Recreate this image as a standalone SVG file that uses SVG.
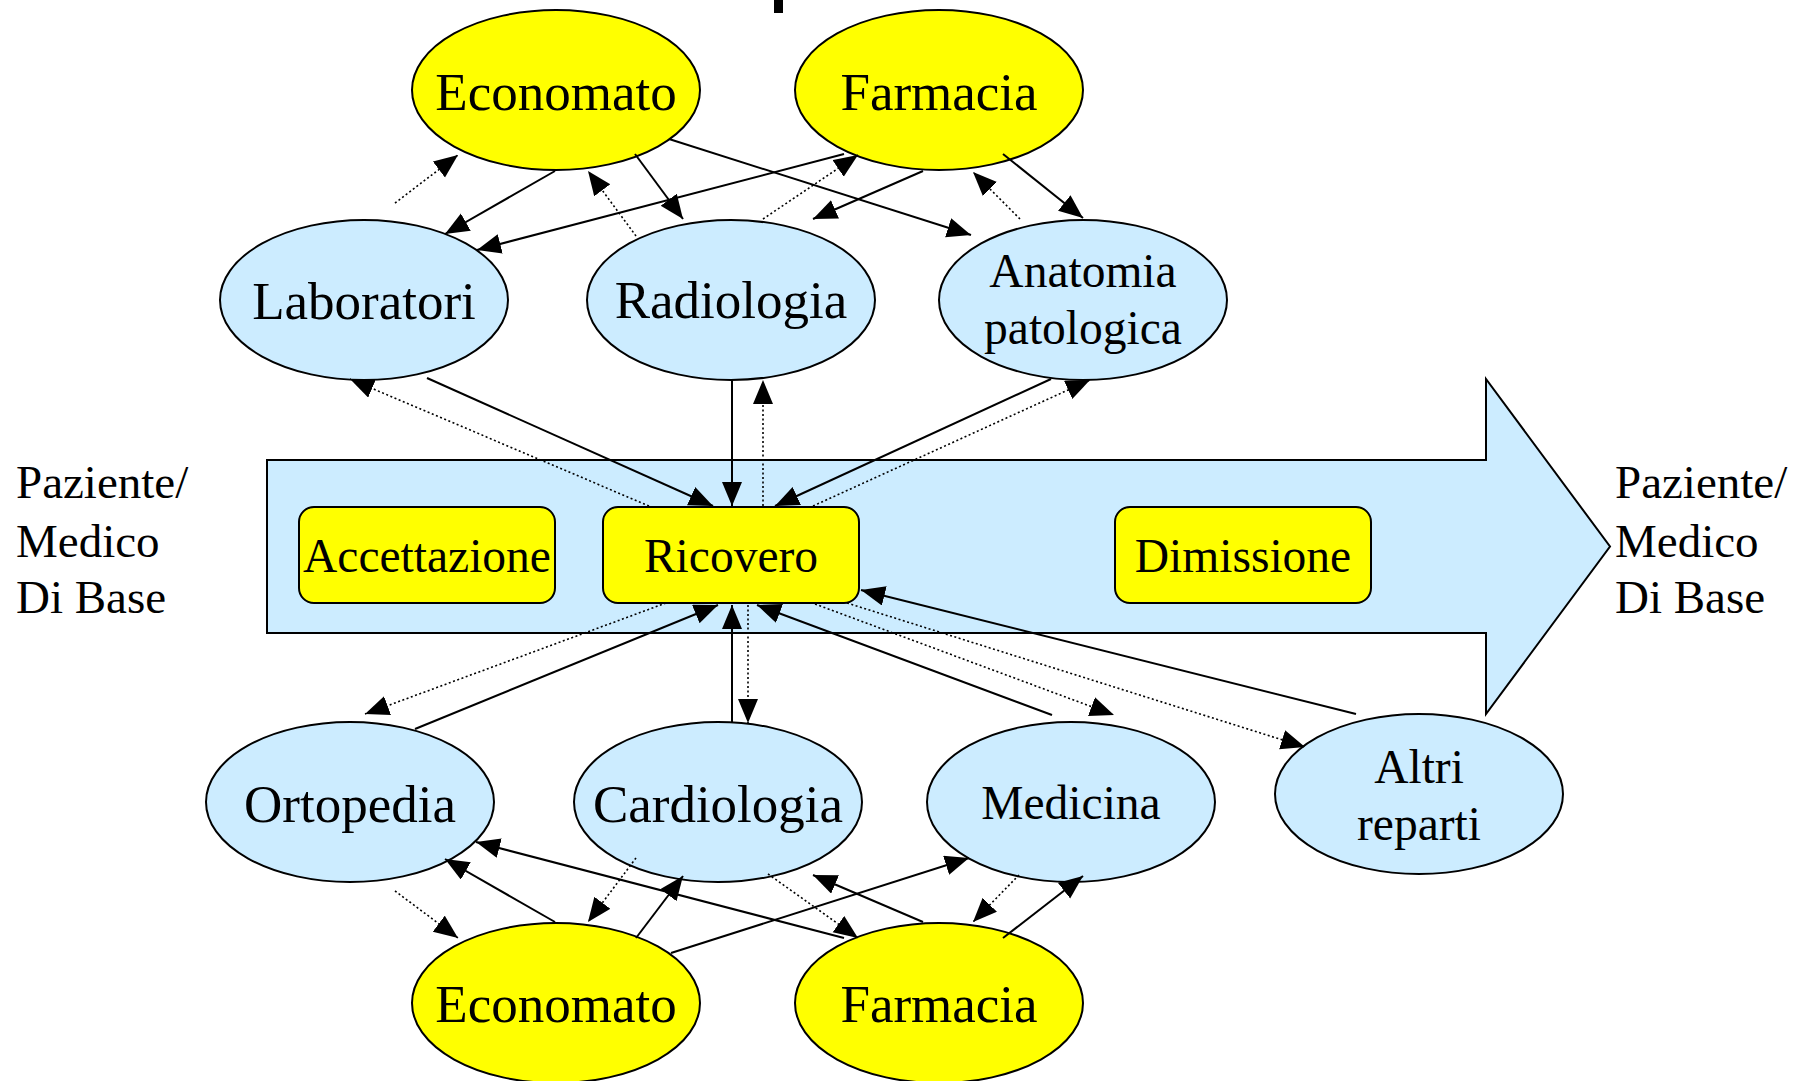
<svg xmlns="http://www.w3.org/2000/svg" width="1793" height="1081" viewBox="0 0 1793 1081">
<style>
.yel{fill:#FFFF00;stroke:#000;stroke-width:2}
.blu{fill:#CCECFF;stroke:#000;stroke-width:2}
.t{font-family:"Liberation Serif","Times New Roman",serif;fill:#000;text-anchor:middle}
.big{font-size:53px}
.sm{font-size:47.5px}
.side{font-family:"Liberation Serif","Times New Roman",serif;font-size:47px;fill:#000}
.s{stroke:#000;stroke-width:2;fill:none;marker-end:url(#ah)}
.d{stroke:#000;stroke-width:1.6;stroke-dasharray:2 2.5;fill:none;marker-end:url(#ah)}
</style>
<defs>
<marker id="ah" markerUnits="userSpaceOnUse" markerWidth="26" markerHeight="22" refX="24" refY="10" orient="auto" viewBox="0 0 26 22">
<path d="M0,0 L24,10 L0,20 z" fill="#000"/>
</marker>
</defs>
<rect width="1793" height="1081" fill="#fff"/>
<rect x="774" y="0" width="9" height="13" fill="#000"/>

<g id="flow">
<polygon points="267,460 1486,460 1486,379 1610,546.5 1486,714 1486,633 267,633" fill="#CCECFF" stroke="#000" stroke-width="2"/>
</g>

<g id="lbl-left"><text class="side" x="16" y="498">Paziente/</text><text class="side" x="16" y="557">Medico</text><text class="side" x="16" y="613">Di Base</text></g>
<g id="lbl-right"><text class="side" x="1615" y="498">Paziente/</text><text class="side" x="1615" y="557">Medico</text><text class="side" x="1615" y="613">Di Base</text></g>

<g id="accettazione"><rect class="yel" x="299" y="507" width="256" height="96" rx="15"/><text class="t sm" x="427" y="572">Accettazione</text></g>
<g id="ricovero"><rect class="yel" x="603" y="507" width="256" height="96" rx="15"/><text class="t sm" x="731" y="572">Ricovero</text></g>
<g id="dimissione"><rect class="yel" x="1115" y="507" width="256" height="96" rx="15"/><text class="t sm" x="1243" y="572">Dimissione</text></g>

<g id="economato-top"><ellipse class="yel" cx="556" cy="90" rx="144" ry="80"/><text class="t big" x="556" y="110">Economato</text></g>
<g id="farmacia-top"><ellipse class="yel" cx="939" cy="90" rx="144" ry="80"/><text class="t big" x="939" y="110">Farmacia</text></g>
<g id="laboratori"><ellipse class="blu" cx="364" cy="300" rx="144" ry="80"/><text class="t big" x="364" y="319">Laboratori</text></g>
<g id="radiologia"><ellipse class="blu" cx="731" cy="300" rx="144" ry="80"/><text class="t big" x="731" y="318">Radiologia</text></g>
<g id="anatomia"><ellipse class="blu" cx="1083" cy="300" rx="144" ry="80"/><text class="t sm" x="1083" y="287">Anatomia</text><text class="t sm" x="1083" y="344">patologica</text></g>

<g id="ortopedia"><ellipse class="blu" cx="350" cy="802" rx="144" ry="80"/><text class="t big" x="350" y="822">Ortopedia</text></g>
<g id="cardiologia"><ellipse class="blu" cx="718" cy="802" rx="144" ry="80"/><text class="t big" x="718" y="822">Cardiologia</text></g>
<g id="medicina"><ellipse class="blu" cx="1071" cy="802" rx="144" ry="80"/><text class="t sm" x="1071" y="819">Medicina</text></g>
<g id="altri"><ellipse class="blu" cx="1419" cy="794" rx="144" ry="80"/><text class="t sm" x="1419" y="783">Altri</text><text class="t sm" x="1419" y="840">reparti</text></g>
<g id="economato-bottom"><ellipse class="yel" cx="556" cy="1003" rx="144" ry="80"/><text class="t big" x="556" y="1022">Economato</text></g>
<g id="farmacia-bottom"><ellipse class="yel" cx="939" cy="1003" rx="144" ry="80"/><text class="t big" x="939" y="1022">Farmacia</text></g>

<g id="connectors">
<line class="d" x1="395" y1="203" x2="458" y2="155"/>
<line class="s" x1="555" y1="171" x2="445" y2="234"/>
<line class="d" x1="636" y1="236" x2="588" y2="171"/>
<line class="s" x1="635" y1="154" x2="683" y2="219"/>
<line class="s" x1="669" y1="139" x2="971" y2="235"/>
<line class="s" x1="844" y1="154" x2="477" y2="250"/>
<line class="d" x1="763" y1="219" x2="858" y2="155"/>
<line class="s" x1="923" y1="171" x2="813" y2="219"/>
<line class="s" x1="1003" y1="154" x2="1083" y2="218"/>
<line class="d" x1="1020" y1="219" x2="973" y2="172"/>
<line class="d" x1="649" y1="506" x2="350" y2="379"/>
<line class="s" x1="427" y1="378" x2="713" y2="506"/>
<line class="s" x1="732" y1="380" x2="732" y2="506"/>
<line class="d" x1="763" y1="506" x2="763" y2="380"/>
<line class="s" x1="1051" y1="379" x2="775" y2="506"/>
<line class="d" x1="813" y1="506" x2="1090" y2="380"/>
<line class="d" x1="666" y1="603" x2="365" y2="714"/>
<line class="s" x1="415" y1="729" x2="718" y2="605"/>
<line class="s" x1="732" y1="722" x2="732" y2="605"/>
<line class="d" x1="748" y1="605" x2="748" y2="723"/>
<line class="s" x1="1052" y1="715" x2="757" y2="605"/>
<line class="d" x1="815" y1="604" x2="1114" y2="715"/>
<line class="d" x1="847" y1="603" x2="1305" y2="747"/>
<line class="s" x1="1356" y1="714" x2="861" y2="590"/>
<line class="s" x1="555" y1="922" x2="445" y2="859"/>
<line class="d" x1="395" y1="891" x2="458" y2="938"/>
<line class="s" x1="844" y1="938" x2="476" y2="842"/>
<line class="d" x1="636" y1="858" x2="588" y2="922"/>
<line class="s" x1="636" y1="938" x2="683" y2="876"/>
<line class="s" x1="671" y1="953" x2="969" y2="858"/>
<line class="s" x1="923" y1="922" x2="813" y2="875"/>
<line class="d" x1="768" y1="874" x2="858" y2="938"/>
<line class="d" x1="1019" y1="875" x2="973" y2="922"/>
<line class="s" x1="1003" y1="938" x2="1083" y2="876"/>
</g>
</svg>
